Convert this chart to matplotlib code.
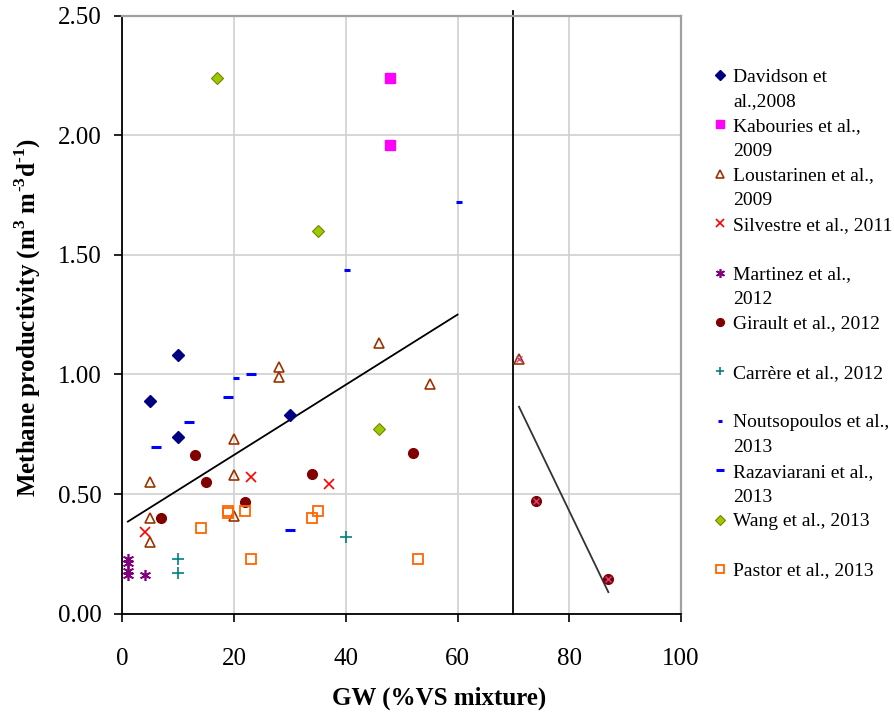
import numpy as np
import matplotlib
matplotlib.use('Agg')
import matplotlib.pyplot as plt

plt.rcParams['font.family'] = ['Liberation Serif', 'DejaVu Serif']
plt.rcParams['mathtext.fontset'] = 'custom'
plt.rcParams['mathtext.rm'] = 'Liberation Serif:bold'
plt.rcParams['mathtext.bf'] = 'Liberation Serif:bold'

# GW share (%VS) vs methane productivity, one pair of lists per study
davidson_x = [5, 10, 10, 30]
davidson_y = [0.89, 1.08, 0.74, 0.83]
kabouries_x = [48, 48]
kabouries_y = [2.24, 1.96]
loustarinen_x = [5, 5, 5, 20, 20, 20, 28, 28, 46, 55, 71]
loustarinen_y = [0.55, 0.40, 0.30, 0.73, 0.58, 0.41, 1.03, 0.99, 1.13, 0.96, 1.065]
silvestre_x = [4, 23, 37]
silvestre_y = [0.34, 0.57, 0.54]
martinez_x = [1, 1, 1, 1, 4]
martinez_y = [0.23, 0.21, 0.18, 0.16, 0.16]
girault_x = [7, 13, 15, 22, 34, 52, 74, 87]
girault_y = [0.40, 0.665, 0.55, 0.465, 0.585, 0.67, 0.47, 0.145]
carrere_x = [10, 10, 40]
carrere_y = [0.23, 0.17, 0.32]
noutsopoulos_x = [20.4, 40.3, 60.3]
noutsopoulos_y = [0.985, 1.435, 1.72]
razaviarani_x = [6, 12, 19, 23, 30]
razaviarani_y = [0.695, 0.80, 0.905, 1.00, 0.35]
wang_x = [17, 35, 46]
wang_y = [2.24, 1.60, 0.77]
pastor_x = [14, 19, 19, 22, 23, 34, 35, 53]
pastor_y = [0.36, 0.43, 0.42, 0.43, 0.23, 0.40, 0.43, 0.23]
# points above 70 % carry a second, faint cross
overlap_x = [71, 74, 87]
overlap_y = [1.065, 0.47, 0.145]

# linear trends left and right of the 70 % split
trend_a_x = [1, 60]
trend_a_y = [0.385, 1.25]
trend_b_x = [71, 87]
trend_b_y = [0.865, 0.09]
split_x = 70

x_ticks = [0, 20, 40, 60, 80, 100]
y_ticks = [0.0, 0.5, 1.0, 1.5, 2.0, 2.5]

series = [
    ('Davidson et\nal.,2008', davidson_x, davidson_y,
     dict(marker='D', ms=6, color='#000080', mec='#000080')),
    ('Kabouries et al.,\n2009', kabouries_x, kabouries_y,
     dict(marker='s', ms=6.5, color='#ff00ff', mec='#ff00ff')),
    ('Loustarinen et al.,\n2009', loustarinen_x, loustarinen_y,
     dict(marker='^', ms=7, mfc='none', mec='#993300', mew=1.2)),
    ('Silvestre et al., 2011', silvestre_x, silvestre_y,
     dict(marker='x', ms=7, mec='#ff0000', mew=1.2)),
    ('Martinez et al.,\n2012', martinez_x, martinez_y,
     dict(marker=(6, 2, 0), ms=8, mec='#800080', mew=1.2)),
    ('Girault et al., 2012', girault_x, girault_y,
     dict(marker='o', ms=7, color='#800000', mec='#800000')),
    ('Carrère et al., 2012', carrere_x, carrere_y,
     dict(marker='+', ms=8, mec='#008080', mew=1.2)),
    ('Noutsopoulos et al.,\n2013', noutsopoulos_x, noutsopoulos_y,
     dict(marker='_', ms=4, mec='#0000ff', mew=2.2)),
    ('Razaviarani et al.,\n2013', razaviarani_x, razaviarani_y,
     dict(marker='_', ms=7.5, mec='#0000ff', mew=2.2)),
    ('Wang et al., 2013', wang_x, wang_y,
     dict(marker='D', ms=6, color='#99cc00', mec='#808000', mew=0.8)),
    ('Pastor et al., 2013', pastor_x, pastor_y,
     dict(marker='s', ms=6.5, mfc='none', mec='#ff6600', mew=1.3)),
]

W, H = 895, 715
fig = plt.figure(figsize=(W / 100, H / 100), dpi=100)
ax = fig.add_axes([122.3 / W, 1 - 613.7 / H, (681 - 122.3) / W, (613.7 - 15.5) / H])

ax.set_xlim(0, 100)
ax.set_ylim(0, 2.5)
ax.set_xticks(x_ticks)
ax.set_yticks(y_ticks)
ax.set_yticklabels(['%.2f' % v for v in y_ticks])
ax.tick_params(axis='both', labelsize=18, direction='out', length=6, width=1.2, color='black')
ax.tick_params(axis='x', pad=19)
ax.tick_params(axis='y', pad=9)
ax.grid(True, color='#d0d0d0', lw=1.2)
ax.set_axisbelow(True)
for s in ['left', 'bottom']:
    ax.spines[s].set_color('black')
    ax.spines[s].set_linewidth(1.3)
for s in ['top', 'right']:
    ax.spines[s].set_color('#a0a0a0')
    ax.spines[s].set_linewidth(1.6)

for label, xs, ys, style in series:
    ax.plot(xs, ys, ls='none', clip_on=False, zorder=3, **style)
ax.plot(overlap_x, overlap_y, ls='none', marker='x', ms=5, mec='#cc4488', mew=1.0, zorder=4)

ax.plot(trend_a_x, trend_a_y, color='black', lw=1.3, zorder=2)
ax.plot(trend_b_x, trend_b_y, color='#333333', lw=1.3, zorder=2)
ax.plot([split_x, split_x], [0, 2.52], color='black', lw=1.3, clip_on=False, zorder=2)

fig.text(28 / W, 1 - 318 / H,
         r'Methane productivity (m$^{\text{3}}$ m$^{\text{-3}}$d$^{\text{-1}}$)',
         rotation=90, ha='center', va='center', fontsize=18, fontweight='bold')
fig.text(439 / W, 1 - 698 / H, 'GW (%VS mixture)', ha='center', va='center',
         fontsize=18, fontweight='bold')

# legend drawn by hand in pixel space
lax = fig.add_axes([0, 0, 1, 1])
lax.set_xlim(0, W)
lax.set_ylim(H, 0)
lax.axis('off')
for i, (label, xs, ys, style) in enumerate(series):
    y0 = 75 + 49.4 * i
    st = dict(style)
    lax.plot([720], [y0], ls='none', **{k: (v * 0.8 if k == 'ms' else v) for k, v in st.items()})
    for j, line in enumerate(label.split('\n')):
        lax.text(733, y0 + 25 * j + 6.5, line, fontsize=14, ha='left', va='baseline')

fig.savefig('out.png', dpi=100)
